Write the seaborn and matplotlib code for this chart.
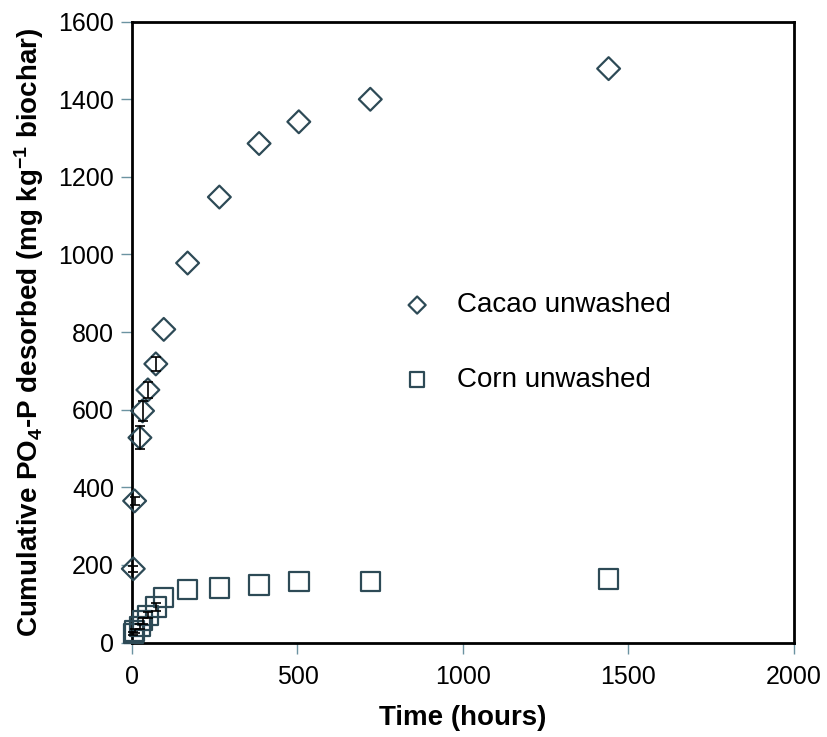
import numpy as np
import pandas as pd
import matplotlib

matplotlib.use('Agg')
import matplotlib.pyplot as plt
import seaborn as sns

# data
cacao_hours = [4, 8, 24, 32, 48, 72, 96, 168, 264, 384, 504, 720, 1440]
cacao_p = [190, 365, 528, 597, 651, 718, 807, 978, 1148, 1286, 1342, 1400, 1479]
cacao_err = [8, 10, 29, 26, 21, 17, 0, 0, 0, 0, 0, 0, 0]

corn_hours = [4, 8, 24, 32, 48, 72, 96, 168, 264, 384, 504, 720, 1440]
corn_p = [24, 30, 42, 56, 70, 92, 116, 137, 141, 148, 157, 157, 164]
corn_err = [4, 5, 6, 8, 8, 10, 0, 0, 0, 0, 0, 0, 0]

series_names = ['Cacao unwashed', 'Corn unwashed']

df = pd.concat([
    pd.DataFrame({'hours': cacao_hours, 'p': cacao_p, 'err': cacao_err, 'biochar': series_names[0]}),
    pd.DataFrame({'hours': corn_hours, 'p': corn_p, 'err': corn_err, 'biochar': series_names[1]}),
], ignore_index=True)

sns.set_theme(style="ticks")
plt.rcParams['font.family'] = ['Liberation Sans', 'DejaVu Sans']
plt.rcParams['mathtext.fontset'] = 'custom'
plt.rcParams['mathtext.rm'] = 'Liberation Sans'
plt.rcParams['mathtext.bf'] = 'Liberation Sans:bold'
plt.rcParams['mathtext.default'] = 'bf'
plt.rcParams['text.color'] = 'black'
plt.rcParams['axes.labelcolor'] = 'black'

edge = '#2d4a56'

fig = plt.figure(figsize=(8.28, 7.37), dpi=100)
ax = fig.add_axes([0.1594, 0.1282, 0.7995, 0.8424])

sub = df[df['biochar'] == series_names[0]]
sns.scatterplot(data=sub, x='hours', y='p', marker='D', s=135, facecolor='none',
                edgecolor=edge, linewidth=1.6, ax=ax, label=series_names[0],
                zorder=3, clip_on=False)
sub = df[df['biochar'] == series_names[1]]
sns.scatterplot(data=sub, x='hours', y='p', marker='s', s=195, facecolor='none',
                edgecolor=edge, linewidth=1.6, ax=ax, label=series_names[1],
                zorder=3, clip_on=False)

# error bars only where there is one
eb = df[df['err'] > 0]
ax.errorbar(eb['hours'], eb['p'], yerr=eb['err'], fmt='none', ecolor='black',
            elinewidth=1.2, capsize=3.5, capthick=1.2, zorder=4, clip_on=False)

ax.set_xlim(0, 2000)
ax.set_ylim(0, 1600)
ax.set_xticks(np.arange(0, 2001, 500))
ax.set_yticks(np.arange(0, 1601, 200))
ax.tick_params(axis='both', direction='out', length=8, width=1, color='#6b93a1',
               labelsize=18, labelcolor='black')
ax.tick_params(axis='x', pad=8)
ax.tick_params(axis='y', pad=5)

for sp in ax.spines.values():
    sp.set_visible(True)
    sp.set_color('black')
    sp.set_linewidth(2)

ax.set_xlabel('Time (hours)', fontsize=20, fontweight='bold', labelpad=12)
ax.set_ylabel(r'Cumulative PO$_4$-P desorbed (mg kg$^{-1}$ biochar)',
              fontsize=20, fontweight='bold')
ax.yaxis.set_label_coords(-0.13, 0.5)

leg = ax.legend(loc='center left', bbox_to_anchor=(0.372, 0.483), frameon=False,
                fontsize=20, handlelength=1.0, handletextpad=0.95, labelspacing=1.75,
                markerscale=0.75)
for t in leg.get_texts():
    t.set_color('black')

plt.savefig('out.png', dpi=100)
plt.close()
